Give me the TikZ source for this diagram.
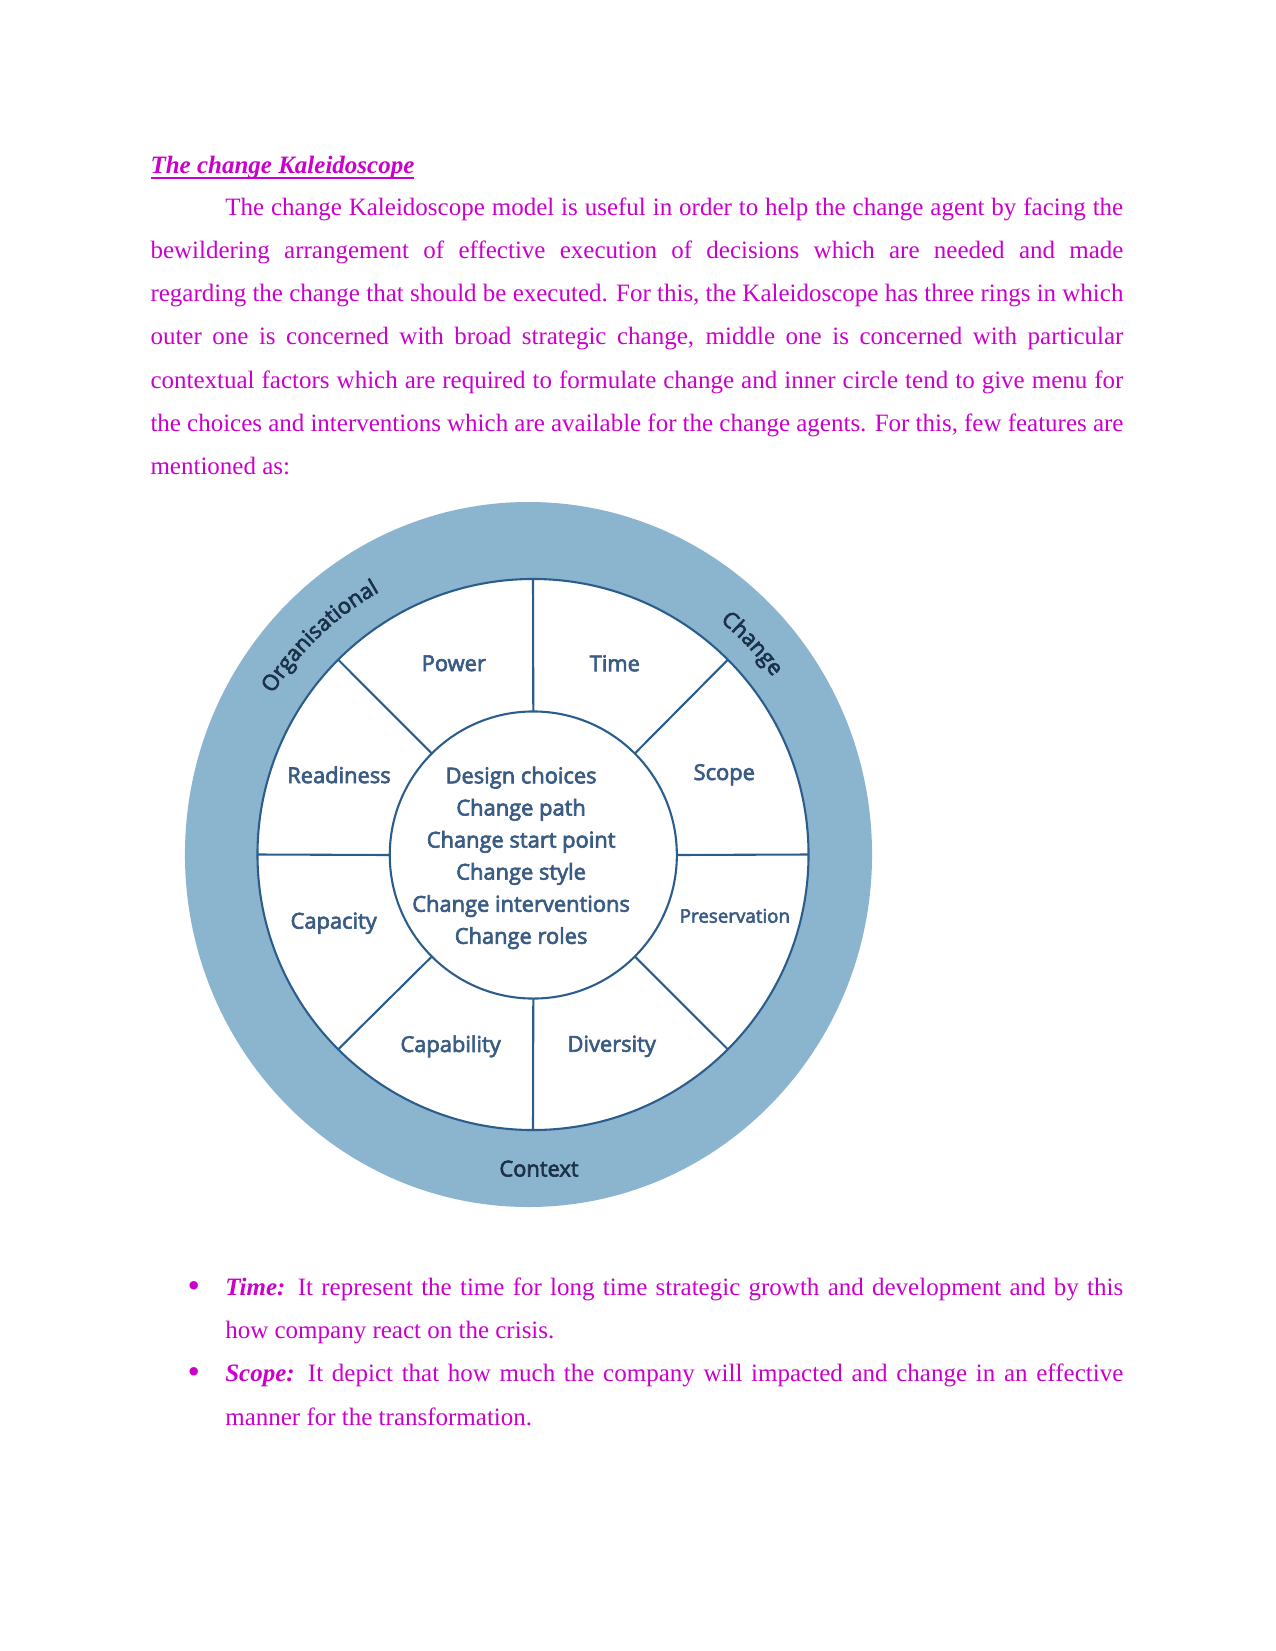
\documentclass[tikz,border=0pt]{standalone}
\usepackage{fontspec}
\setmainfont{Liberation Serif}
\newfontfamily\diagfont{Open Sans}[FakeBold=3]
\usetikzlibrary{shapes.geometric,decorations.text}
\definecolor{mag}{HTML}{CC00CC}
\definecolor{ring}{HTML}{8BB5CF}
\definecolor{dline}{HTML}{2B5D8C}
\definecolor{lbl}{HTML}{3A5C84}
\definecolor{dark}{HTML}{1B3149}
\newcommand\fullline[1]{\makebox[467pt][s]{#1}}
\newcommand\indline[1]{\makebox[431pt][s]{#1}}
\begin{document}
\begin{tikzpicture}[x=0.48pt,y=-0.48pt,
  body/.style={anchor=base west, inner sep=0pt, outer sep=0pt, text=mag, font=\fontsize{12}{14}\selectfont},
  bul/.style={anchor=base, inner sep=0pt, text=mag, font=\fontsize{17}{17}\selectfont},
  seg/.style={inner sep=0pt, text=lbl, font=\diagfont\fontsize{10.5}{12}\selectfont},
  ringlbl/.style={inner sep=0pt, text=dark, font=\diagfont\fontsize{10.5}{12}\selectfont},
  spoke/.style={draw=dline, line width=1pt},
]
\useasboundingbox (0,0) rectangle (1275,1651);
\fill[white] (0,0) rectangle (1275,1651);

% title and paragraph
\node[body] (title) at (150.5,174) {\textbf{\textit{The change Kaleidoscope}}};
\draw[mag, line width=0.7pt] ([yshift=-2pt]title.base west) -- ([yshift=-2pt]title.base east);
\node[body] (p1) at (225.3,215.5) {\indline{The change Kaleidoscope model is useful in order to help the change agent by facing the}};
\node[body] (p2) at (150.5,258.6) {\fullline{bewildering arrangement of effective execution of decisions which are needed and made}};
\node[body] (p3) at (150.5,301.7) {\fullline{regarding the change that should be executed. For this, the Kaleidoscope has three rings in which}};
\node[body] (p4) at (150.5,344.9) {\fullline{outer one is concerned with broad strategic change, middle one is concerned with particular}};
\node[body] (p5) at (150.5,388.1) {\fullline{contextual factors which are required to formulate change and inner circle tend to give menu for}};
\node[body] (p6) at (150.5,431.2) {\fullline{the choices and interventions which are available for the change agents. For this, few features are}};
\node[body] (p7) at (150.5,474.4) {mentioned as:};

% bullets
\node[bul] (bb1) at (193.7,1297) {\textbullet};
\node[body] (b1) at (225.3,1295.5) {\indline{\textbf{\textit{Time:}} It represent the time for long time strategic growth and development and by this}};
\node[body] (b2) at (225.3,1338.7) {how company react on the crisis.};
\node[bul] (bb2) at (193.7,1383.2) {\textbullet};
\node[body] (b3) at (225.3,1381.9) {\indline{\textbf{\textit{Scope:}} It depict that how much the company will impacted and change in an effective}};
\node[body] (b4) at (225.3,1425) {manner for the transformation.};

% diagram
\begin{scope}[shift={(528.5,854.5)}, x=0.48pt, y=0.48pt]
  \node[ellipse, fill=ring, inner sep=0pt, outer sep=0pt, minimum width=329.8pt, minimum height=338.4pt] (outer) at (0,0) {};
  \node[circle, draw=dline, line width=1pt, fill=white, inner sep=0pt, outer sep=0pt, minimum size=264.5pt] (mid) at (4.5,0) {};
  \node[circle, draw=dline, line width=1pt, fill=white, inner sep=0pt, outer sep=0pt, minimum size=137.8pt] (inner) at (4.8,-0.5) {};
  \foreach \a in {0,45,...,315} {
    \draw[spoke] (inner.\a) -- (mid.\a);
  }
  \node[seg] (power) at (-74.7,191.2) {Power};
  \node[seg] (time) at (86.3,191.2) {Time};
  \node[seg] (readiness) at (-189.5,79.6) {Readiness};
  \node[seg] (scope) at (195.8,79.8) {Scope};
  \node[seg] (capacity) at (-194.8,-68.7) {Capacity};
  \node[seg, font=\diagfont\fontsize{9}{11}\selectfont] (preservation) at (206.4,-61.4) {Preservation};
  \node[seg] (capability) at (-77.9,-191.8) {Capability};
  \node[seg] (diversity) at (83.2,-191.8) {Diversity};
  \node[seg, align=center, font=\diagfont\fontsize{10.5}{15.4}\selectfont] (menu) at (-7.4,-3.4)
    {Design choices\\Change path\\Change start point\\Change style\\Change interventions\\Change roles};
  \node[ringlbl] (context) at (10.5,-314.1) {Context};
  \path[decorate, decoration={text along path, text align=center,
      text={|\diagfont\fontsize{10.5}{12}\selectfont\color{dark}|Organisational}}]
    (153.7:302) arc[start angle=153.7, end angle=113.7, radius=302];
  \path[decorate, decoration={text along path, text align=center,
      text={|\diagfont\fontsize{10.5}{12}\selectfont\color{dark}|Change}}]
    (63.3:302) arc[start angle=63.3, end angle=23.3, radius=302];
\end{scope}
\end{tikzpicture}
\end{document}
